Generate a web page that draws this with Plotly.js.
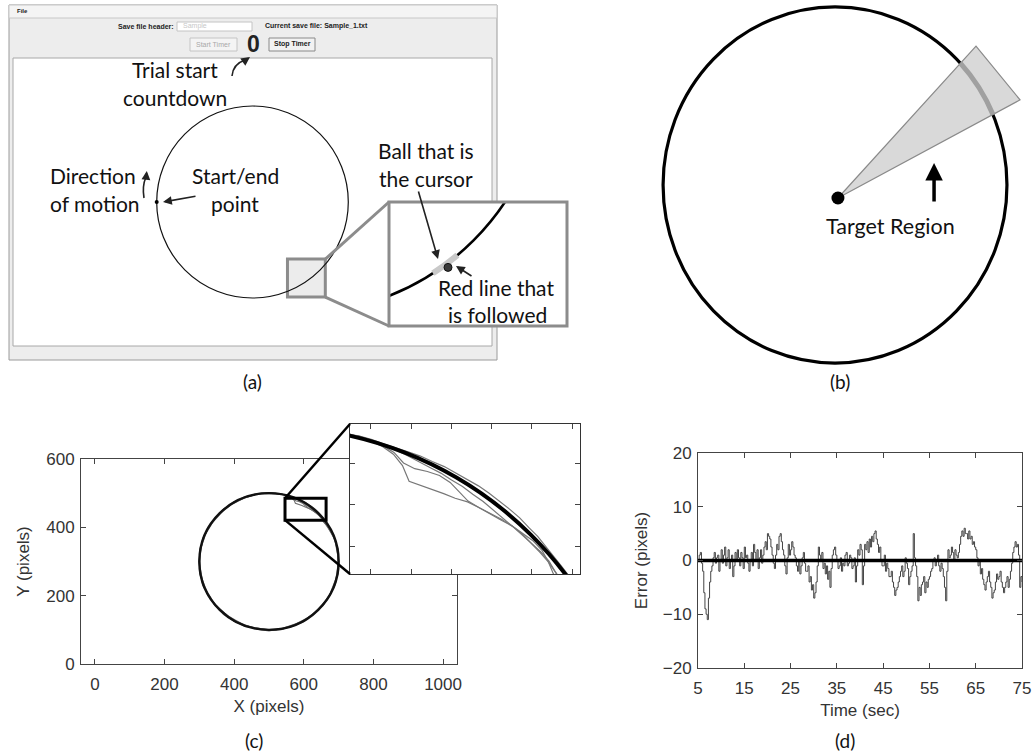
<!DOCTYPE html>
<html><head><meta charset="utf-8">
<script src="https://cdn.plot.ly/plotly-3.0.1.min.js"></script>
<style>html,body{margin:0;padding:0;background:#fff;}#chart{width:1033px;height:753px;}</style>
</head><body><div id="chart"></div>
<script>
// ================= DATA =================
// target path in the task app (screen pixels)
const targetCenter = [500, 300];
const targetRadius = 200;
const appCanvasX = [0, 1000];
const appCanvasY = [0, 600];

// recorded trajectories, polar samples about the target centre
const trajAngles = [0,10,20,30,32,34,36,38,40,42,44,46,48,50,52,54,56,58,60,62,64,66,68,70,72,74,76,78,80,90,100,110,120,130,140,150,160,170,180,190,200,210,220,230,240,250,260,270,280,290,300,310,320,330,340,350,360];
const trajA = [199,201,198.5,198,197,196.5,196,196.5,197.5,197.5,197,196.5,196.5,195,194,193,192,190,189,188,187,186.5,193,197,199,200,200.5,201,200.5,201,199,202,200,198,201,199.5,202,199,201,198,200,202,199,197,200,202,199,200,203,199,198,201,199,202,200,198,199];
const trajB = [201,198,200,199,197,195.5,195,195,197,198.5,198.5,197.5,196.5,195.5,194,193,192.5,194,196,196.5,195.5,194,194.5,198,199.5,200,201,200,199,200,202,198,201,199,197,201,200,202,199,201,198,200,202,200,197,199,201,203,200,198,201,199,202,200,198,201,201];
const trajC = [200,202,199,201,200.5,200.5,201,201,201,201.5,202,202,202.5,202.5,202.5,202.5,202.5,202,202,202,201.5,201.5,201,200.5,200.5,201,201,200.5,200,199,201,200,202,201,199,202,198,200,202,200,203,199,201,203,201,198,200,199,201,202,200,198,200,199,202,200,200];
const trajD = [198,200,201,197,196.5,196,196,196.5,197,197,197,197,196.5,196.5,196.5,197,197,197.5,197.5,198,198,198.5,199,199.5,200,200,200.5,200.5,200,202,200,199,198,202,200,198,201,199,200,202,201,198,200,199,202,200,198,201,199,201,203,200,198,201,199,202,198];
const trajectories = [trajA, trajB, trajC, trajD];

// zoomed region of panel (c)
const zoomRectX = [546, 664];
const zoomRectY = [421, 485];
const insetRangeX = [544, 668];
const insetRangeY = [420, 501.5];

// panel (c) ticks
const cTicksX = [0,200,400,600,800,1000];
const cTicksY = [0,200,400,600];

// panel (d): tracking error over time
const errTime = [
 5,5.25,5.5,5.75, 6,6.25,6.5,6.75, 7,7.25,7.5,7.75, 8,8.25,8.5,8.75, 9,9.25,9.5,9.75,
 10,10.25,10.5,10.75, 11,11.25,11.5,11.75, 12,12.25,12.5,12.75, 13,13.25,13.5,13.75, 14,14.25,14.5,14.75,
 15,15.25,15.5,15.75, 16,16.25,16.5,16.75, 17,17.25,17.5,17.75, 18,18.25,18.5,18.75, 19,19.25,19.5,19.75,
 20,20.25,20.5,20.75, 21,21.25,21.5,21.75, 22,22.25,22.5,22.75, 23,23.25,23.5,23.75, 24,24.25,24.5,24.75,
 25,25.25,25.5,25.75, 26,26.25,26.5,26.75, 27,27.25,27.5,27.75, 28,28.25,28.5,28.75, 29,29.25,29.5,29.75,
 30,30.25,30.5,30.75, 31,31.25,31.5,31.75, 32,32.25,32.5,32.75, 33,33.25,33.5,33.75, 34,34.25,34.5,34.75,
 35,35.25,35.5,35.75, 36,36.25,36.5,36.75, 37,37.25,37.5,37.75, 38,38.25,38.5,38.75, 39,39.25,39.5,39.75,
 40,40.25,40.5,40.75, 41,41.25,41.5,41.75, 42,42.25,42.5,42.75, 43,43.25,43.5,43.75, 44,44.25,44.5,44.75,
 45,45.25,45.5,45.75, 46,46.25,46.5,46.75, 47,47.25,47.5,47.75, 48,48.25,48.5,48.75, 49,49.25,49.5,49.75,
 50,50.25,50.5,50.75, 51,51.25,51.5,51.75, 52,52.25,52.5,52.75, 53,53.25,53.5,53.75, 54,54.25,54.5,54.75,
 55,55.25,55.5,55.75, 56,56.25,56.5,56.75, 57,57.25,57.5,57.75, 58,58.25,58.5,58.75, 59,59.25,59.5,59.75,
 60,60.25,60.5,60.75, 61,61.25,61.5,61.75, 62,62.25,62.5,62.75, 63,63.25,63.5,63.75, 64,64.25,64.5,64.75,
 65,65.25,65.5,65.75, 66,66.25,66.5,66.75, 67,67.25,67.5,67.75, 68,68.25,68.5,68.75, 69,69.25,69.5,69.75,
 70,70.25,70.5,70.75, 71,71.25,71.5,71.75, 72,72.25,72.5,72.75, 73,73.25,73.5,73.75, 74,74.25,74.5,74.75,
 75];
const errValue = [
 0,1,1.5,-0.5, -2,-6,-9,-10, -11,-7,-4,-2, -1,0.5,1.5,-0.5, 0.5,1,-2,0,
 2,-0.5,1,2.5, -1,0.5,2,-1.5, 0,1,-3,-1, 1.5,0,2,0.5, -1,1.5,0.5,-1.5,
 2.5,0.5,1,-0.5, -2,0,1.5,-1, 3,1.5,0,2, -1.5,0.5,2,-0.5, 1,2.5,3.5,2,
 5,4.5,4,2.5, 1,-0.5,-1.5,1, 3,2,4.5,5, 3.5,2,1,-1, -2.5,0.5,3,1,
 2,3.5,2.5,1, 0.5,-1,-2,0, -2.5,-1,0.5,1.5, -0.5,-2,-2,-1, -4,-3,-5.5,-4.5,
 -7,-6,-4,-1, 2.5,1,0,1.5, -1.5,-0.5,-2.5,-1, -3.5,-2,-5,-1.5, 1,2,2.5,1,
 0,-1.5,-1,0.5, -2,-0.5,-1,1, 1.5,-1,-0.5,1, 0.5,-1.5,-1,0.5, -4,-1,2,1,
 3,2,-4.5,-1, 3,2,3.5,1.5, 4,2.5,4.5,3.5, 5,5.5,4,3, 1.5,2.5,0,-1,
 -1,1,-2,-0.5, -1.5,-3,-3,-2, -4,-5,-6.5,-5.5, -5,-4,-3,-2, -1,-3,-2,0.5,
 -0.5,-1.5,-4.5,-3, -2,-1,5,0.5, -1,-3,-7.5,-5, -6.5,-4.5,-4,-3, -6,-4,-5,-3.5,
 -3,-2,-1.5,0, 0.5,-1,0,1, -1,-2,-0.5,-1.5, -3,-5,-7.5,-2, 2,0.5,1,2.5,
 1.5,0,2,1, 0.5,1.5,3,4.5, 5.5,4.5,6,5, 5,4,5.5,4, 4.5,3,3.5,2.5,
 2,0.5,-1,0, -2.5,-1.5,-3.5,-4.5, -5.5,-4,-3,-2, -4,-5,-7,-6, -5.5,-4,-2.5,-3.5,
 -3,-2,-4,-5, -6,-5,-4,-3, -5,-3.5,-2,-0.5, 1.5,2.5,3.5,2.5, 3,1,-5,-3,
 -4];
const refTime = [5, 75];
const refError = [0, 0];
const dTicksX = [5,15,25,35,45,55,65,75];
const dTicksY = [-20,-10,0,10,20];

// panel (a) schematic
const startPoint = [300, 300];
const smallBoxX = [573, 652];
const smallBoxY = [102, 181];
const cursorPos = [621, 137];
const followedArcDeg = [-57, -50];

// panel (b) schematic (unit target circle)
const regionApex = [0.017, -0.073];
const wedgeX = [0.017, 0.82, 1.076];
const wedgeY = [-0.073, 0.78, 0.478];
const targetRegionDeg = [23.3, 43.2];

// ================= LAYOUT HELPERS =================
const W = 1033, H = 753;
const fx = p => p / W;
const fy = p => 1 - p / H;
const toPaper = (dom, rng, v) => dom[0] + (v - rng[0]) / (rng[1] - rng[0]) * (dom[1] - dom[0]);
const rad = d => d * Math.PI / 180;
function arcQ(cx, cy, r, a1, a2) {
  const t1 = rad(a1), t2 = rad(a2), m = (t1 + t2) / 2, h = (t2 - t1) / 2;
  const p1 = [cx + r * Math.cos(t1), cy + r * Math.sin(t1)];
  const p2 = [cx + r * Math.cos(t2), cy + r * Math.sin(t2)];
  const c = [cx + r * Math.cos(m) / Math.cos(h), cy + r * Math.sin(m) / Math.cos(h)];
  return `M${p1[0]},${p1[1]} Q${c[0]},${c[1]} ${p2[0]},${p2[1]}`;
}
const polarX = r => r.map((v, i) => targetCenter[0] + v * Math.cos(rad(trajAngles[i])));
const polarY = r => r.map((v, i) => targetCenter[1] + v * Math.sin(rad(trajAngles[i])));

// domains (page pixels → paper)
const domC_x = [fx(81), fx(457)], domC_y = [fy(664), fy(459)];
const domI_x = [fx(350), fx(580)], domI_y = [fy(574), fy(424)];
const domD_x = [fx(698), fx(1022)], domD_y = [fy(668), fy(453)];
const domA_x = [fx(13), fx(492)], domA_y = [fy(346), fy(58)];
const domZ_x = [fx(389), fx(567)], domZ_y = [fy(326), fy(202)];
const domB_x = [fx(655), fx(1030)], domB_y = [fy(370), fy(0)];

const zoomRangeX = [573.8, 716.2];
const zoomRangeY = [90.1, 189.3];
const bRangeX = [-1.047, 1.134];
const bRangeY = [-1.039, 1.039];
const cRangeX = [-40, 1040];
const cRangeY = [0, 600];

// ================= TRACES =================
const traces = [];
trajectories.forEach(r => traces.push({x: polarX(r), y: polarY(r), xaxis:'x', yaxis:'y', mode:'lines',
  line:{color:'#6e6e6e', width:1.1}, hoverinfo:'skip', showlegend:false}));
trajectories.forEach(r => traces.push({x: polarX(r), y: polarY(r), xaxis:'x2', yaxis:'y2', mode:'lines',
  line:{color:'#777', width:1.2}, hoverinfo:'skip', showlegend:false}));
traces.push({x: errTime, y: errValue, xaxis:'x3', yaxis:'y3', mode:'lines', line:{color:'#444', width:1, shape:'hv'}, showlegend:false});
traces.push({x: refTime, y: refError, xaxis:'x3', yaxis:'y3', mode:'lines', line:{color:'#000', width:3.5}, showlegend:false});
traces.push({x: [startPoint[0]], y: [startPoint[1]], xaxis:'x4', yaxis:'y4', mode:'markers', marker:{color:'#000', size:4}, showlegend:false});
traces.push({x: [cursorPos[0]], y: [cursorPos[1]], xaxis:'x5', yaxis:'y5', mode:'markers', marker:{color:'#3a3a3a', size:8, line:{color:'#111', width:1}}, showlegend:false});
traces.push({x: [regionApex[0]], y: [regionApex[1]], xaxis:'x6', yaxis:'y6', mode:'markers', marker:{color:'#000', size:13}, showlegend:false});

// ================= SHAPES =================
const P = (x, y) => `${fx(x)},${fy(y)}`;
const rectPx = (x0, y0, x1, y1, fill, line, lw, layer) => ({type:'rect', xref:'paper', yref:'paper',
  x0: fx(x0), x1: fx(x1), y0: fy(y1), y1: fy(y0), fillcolor: fill, line:{color: line, width: lw}, layer: layer || 'below'});
const circ = (xr, yr, cx, cy, r, color, w, layer) => ({type:'circle', xref: xr, yref: yr,
  x0: cx - r, x1: cx + r, y0: cy - r, y1: cy + r, line:{color, width:w}, layer});

const shapes = [
  rectPx(9, 5, 497, 360, '#ededed', '#9a9a9a', 1),
  rectPx(9, 5, 497, 18, '#f4f4f4', '#c8c8c8', 1),
  rectPx(177, 22, 252, 31, '#ffffff', '#c4c4c4', 1),
  rectPx(190, 38, 237, 51, '#f4f4f4', '#c4c4c4', 1),
  rectPx(269, 38, 315, 51, '#f2f2f2', '#8a8a8a', 1),
  rectPx(13, 58, 492, 346, '#ffffff', '#a8a8a8', 1),
  {type:'rect', xref:'x4', yref:'y4', x0: smallBoxX[0], x1: smallBoxX[1], y0: smallBoxY[0], y1: smallBoxY[1],
   fillcolor:'#ececec', line:{color:'#8c8c8c', width:3}, layer:'below'},
  circ('x4', 'y4', targetCenter[0], targetCenter[1], targetRadius, '#111', 1.2, 'below'),
  circ('x5', 'y5', targetCenter[0], targetCenter[1], targetRadius, '#000', 2.6, 'below'),
  {type:'path', xref:'x5', yref:'y5', path: arcQ(targetCenter[0], targetCenter[1], targetRadius, followedArcDeg[0], followedArcDeg[1]),
   line:{color:'#c9c9c9', width:6}, layer:'below'},
  {type:'rect', xref:'x5 domain', yref:'y5 domain', x0:0, x1:1, y0:0, y1:1, line:{color:'#8c8c8c', width:3}, layer:'above'},
  {type:'line', xref:'paper', yref:'paper', x0: toPaper(domA_x, appCanvasX, smallBoxX[1]), y0: toPaper(domA_y, appCanvasY, smallBoxY[1]),
   x1: domZ_x[0], y1: domZ_y[1], line:{color:'#8c8c8c', width:3}, layer:'above'},
  {type:'line', xref:'paper', yref:'paper', x0: toPaper(domA_x, appCanvasX, smallBoxX[1]), y0: toPaper(domA_y, appCanvasY, smallBoxY[0]),
   x1: domZ_x[0], y1: domZ_y[0], line:{color:'#8c8c8c', width:3}, layer:'above'},
  {type:'path', xref:'paper', yref:'paper', path:`M${P(232,76)} Q${P(233,64)} ${P(245,60)}`, line:{color:'#222', width:1.6}, layer:'above'},
  {type:'path', xref:'paper', yref:'paper', path:`M${P(144,198)} Q${P(142,186)} ${P(146,177)}`, line:{color:'#222', width:1.6}, layer:'above'},
  circ('x6', 'y6', 0, 0, 1, '#000', 3.2, 'below'),
  {type:'path', xref:'x6', yref:'y6', path:`M${wedgeX[0]},${wedgeY[0]} L${wedgeX[1]},${wedgeY[1]} L${wedgeX[2]},${wedgeY[2]} Z`,
   fillcolor:'#d9d9d9', line:{color:'#8a8a8a', width:1.2}, layer:'below'},
  {type:'path', xref:'x6', yref:'y6', path: arcQ(0, 0, 1, targetRegionDeg[0], targetRegionDeg[1]), line:{color:'#a0a0a0', width:5}, layer:'below'},
  circ('x', 'y', targetCenter[0], targetCenter[1], targetRadius, '#111', 2.4, 'above'),
  circ('x2', 'y2', targetCenter[0], targetCenter[1], targetRadius, '#000', 4, 'above'),
  {type:'rect', xref:'x', yref:'y', x0: zoomRectX[0], x1: zoomRectX[1], y0: zoomRectY[0], y1: zoomRectY[1], line:{color:'#000', width:3}, layer:'above'},
  {type:'line', xref:'paper', yref:'paper', x0: toPaper(domC_x, cRangeX, zoomRectX[0]), y0: toPaper(domC_y, cRangeY, zoomRectY[1]),
   x1: domI_x[0], y1: domI_y[1], line:{color:'#000', width:2.5}, layer:'above'},
  {type:'line', xref:'paper', yref:'paper', x0: toPaper(domC_x, cRangeX, zoomRectX[0]), y0: toPaper(domC_y, cRangeY, zoomRectY[0]),
   x1: domI_x[0], y1: domI_y[0], line:{color:'#000', width:2.5}, layer:'above'}
];

// ================= ANNOTATIONS =================
const LAB = 'Lato, Carlito, "Noto Sans", sans-serif';
const txt = (x, y, text, size, opts) => Object.assign({xref:'paper', yref:'paper', x: fx(x), y: fy(y), text, showarrow:false,
  font:{family: LAB, size, color:'#111'}, xanchor:'center', yanchor:'middle'}, opts || {});
const ui = (x, y, text, opts) => Object.assign({xref:'paper', yref:'paper', x: fx(x), y: fy(y), text, showarrow:false,
  font:{family:'"Liberation Sans", Arial, sans-serif', size:7, color:'#222'}, xanchor:'center', yanchor:'middle'}, opts || {});
const arrow = (tx, ty, sx, sy, opts) => Object.assign({xref:'paper', yref:'paper', x: fx(tx), y: fy(ty), ax: sx - tx, ay: sy - ty,
  text:'', showarrow:true, arrowhead:2, arrowsize:1.1, arrowwidth:1.6, arrowcolor:'#222', standoff:0}, opts || {});
const LS = 21;

const annotations = [
  ui(15, 11.5, '<b>File</b>', {xanchor:'left', font:{family:'"Liberation Sans", Arial', size:6, color:'#222'}}),
  ui(176, 26.5, '<b>Save file header:</b>', {xanchor:'right'}),
  ui(181, 26.5, 'Sample', {xanchor:'left', font:{family:'"Liberation Sans", Arial', size:7, color:'#c8c8c8'}}),
  ui(263, 26.5, '<b>Current save file: Sample_1.txt</b>', {xanchor:'left'}),
  ui(213.5, 44.5, 'Start Timer', {font:{family:'"Liberation Sans", Arial', size:7, color:'#a8a8a8'}}),
  ui(292, 44.5, '<b>Stop Timer</b>'),
  ui(253, 44.5, '<b>0</b>', {font:{family:'"Liberation Sans", Arial', size:23, color:'#222'}}),
  txt(175, 69, 'Trial start', LS),
  txt(175, 97, 'countdown', LS),
  txt(48, 175, 'Direction', LS, {xanchor:'left'}),
  txt(48, 203, 'of motion', LS, {xanchor:'left'}),
  txt(235, 175, 'Start/end', LS),
  txt(235, 203, 'point', LS),
  txt(426, 150, 'Ball that is', LS),
  txt(426, 178, 'the cursor', LS),
  txt(496, 287, 'Red line that', LS),
  txt(497, 314, 'is followed', LS),
  arrow(250, 57, 245, 60.5),
  arrow(146.8, 171, 146.2, 177),
  arrow(163, 202, 197, 196),
  arrow(438, 259, 418, 190),
  arrow(456, 266, 473, 277),
  {xref:'x6', yref:'y6', x: 0.576, y: 0.124, ax: 0, ay: 40, text:'', showarrow:true, arrowhead:2, arrowsize:1, arrowwidth:3.5, arrowcolor:'#000', standoff:0},
  {xref:'x6', yref:'y6', x: 0.32, y: -0.23, text:'Target Region', showarrow:false, font:{family: LAB, size:21.5, color:'#111'}},
  txt(252, 381, '(a)', 19),
  txt(840, 381, '(b)', 19),
  txt(254, 740, '(c)', 19),
  txt(845, 740, '(d)', 19)
];

// ================= AXES =================
const tickFont = {family:'"Liberation Sans", Arial, sans-serif', size:17, color:'#333'};
const axBase = {showline:true, linecolor:'#444', linewidth:1, mirror:'allticks', ticks:'inside', ticklen:5, tickcolor:'#444',
  showgrid:false, zeroline:false, tickfont: tickFont, fixedrange:true};
const hidden = {visible:false, showgrid:false, zeroline:false, fixedrange:true};

const layout = {
  width: W, height: H, margin:{l:0, r:0, t:0, b:0}, paper_bgcolor:'#ffffff', plot_bgcolor:'rgb(255,255,255)',
  showlegend:false,
  xaxis: Object.assign({}, axBase, {domain: domC_x, range: cRangeX, anchor:'y', tickvals: cTicksX, ticklabelstandoff: 5,
    title:{text:'X (pixels)', font: tickFont, standoff: 6}}),
  yaxis: Object.assign({}, axBase, {domain: domC_y, range: cRangeY, anchor:'x', tickvals: cTicksY, ticklabelstandoff: 2,
    title:{text:'Y (pixels)', font: tickFont, standoff: 12}}),
  xaxis2: Object.assign({}, axBase, {domain: domI_x, range: insetRangeX, anchor:'y2', tick0: 555.3, dtick: 21.7, showticklabels:false, linecolor:'#333'}),
  yaxis2: Object.assign({}, axBase, {domain: domI_y, range: insetRangeY, anchor:'x2', tick0: 435.2, dtick: 22.3, showticklabels:false, linecolor:'#333'}),
  xaxis3: Object.assign({}, axBase, {domain: domD_x, range: [5, 75], anchor:'y3', tickvals: dTicksX, ticklabelstandoff: 5,
    title:{text:'Time (sec)', font: tickFont, standoff: 6}}),
  yaxis3: Object.assign({}, axBase, {domain: domD_y, range: [-20, 20], anchor:'x3', tickvals: dTicksY, ticklabelstandoff: 2,
    title:{text:'Error (pixels)', font: tickFont, standoff: 10}}),
  xaxis4: Object.assign({}, hidden, {domain: domA_x, range: appCanvasX, anchor:'y4'}),
  yaxis4: Object.assign({}, hidden, {domain: domA_y, range: appCanvasY, anchor:'x4'}),
  xaxis5: Object.assign({}, hidden, {domain: domZ_x, range: zoomRangeX, anchor:'y5'}),
  yaxis5: Object.assign({}, hidden, {domain: domZ_y, range: zoomRangeY, anchor:'x5'}),
  xaxis6: Object.assign({}, hidden, {domain: domB_x, range: bRangeX, anchor:'y6'}),
  yaxis6: Object.assign({}, hidden, {domain: domB_y, range: bRangeY, anchor:'x6'}),
  shapes, annotations
};

Plotly.newPlot('chart', traces, layout, {displayModeBar:false, staticPlot:true});
</script>
</body></html>
